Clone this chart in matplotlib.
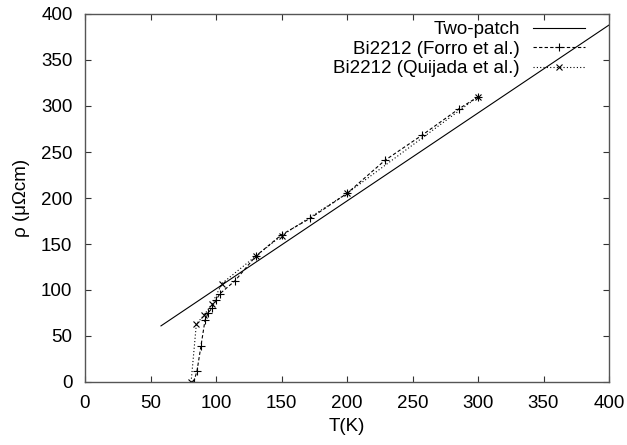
import matplotlib
matplotlib.use("Agg")
import matplotlib.pyplot as plt

plt.rcParams['font.family'] = ['Liberation Sans', 'DejaVu Sans']

# two-patch model line
tp_T = [58, 400]
tp_rho = [61, 388]

# Bi2212 (Forro et al.)
forro_T = [83, 85.5, 88.5, 91.6, 94, 96.8, 100, 103, 114.5, 130.5, 150, 172, 200, 229, 257, 285.5, 300]
forro_rho = [0, 12, 39, 67, 75, 80, 89, 96, 110, 137, 160, 178, 205, 241, 268, 297, 310]

# Bi2212 (Quijada et al.)
quij_T = [81, 85, 91, 97, 104.5, 130.5, 150, 200, 300]
quij_rho = [0, 63, 73, 85, 107, 137, 159, 205, 310]

xticks = [0, 50, 100, 150, 200, 250, 300, 350, 400]
yticks = [0, 50, 100, 150, 200, 250, 300, 350, 400]

fig = plt.figure(figsize=(6.27, 4.45), dpi=100)
ax = fig.add_axes([85 / 627, 1 - 382 / 445, 524 / 627, 368 / 445])

ax.plot(tp_T, tp_rho, color='black', lw=0.8, label='Two-patch')
ax.plot(forro_T, forro_rho, color='black', lw=0.8, dashes=(3, 2),
        marker='+', ms=6, mew=0.8, label='Bi2212 (Forro et al.)')
ax.plot(quij_T, quij_rho, color='black', lw=0.8, dashes=(1, 2),
        marker='x', ms=5, mew=0.8, label='Bi2212 (Quijada et al.)')

ax.set_xlim(0, 400)
ax.set_ylim(0, 400)
ax.set_xticks(xticks)
ax.set_yticks(yticks)
ax.tick_params(direction='in', length=4.5, width=0.8, top=True, right=True,
               labelsize=13.5, color='#333333')
ax.tick_params(axis='x', pad=9)
ax.tick_params(axis='y', pad=9)
for s in ax.spines.values():
    s.set_color('#555555')
    s.set_linewidth(1.0)

ax.set_xlabel('T(K)', fontsize=13.5, labelpad=5)
ax.set_ylabel('ρ (μΩcm)', fontsize=13.5, labelpad=8)

ax.legend(loc='upper right', bbox_to_anchor=(0.955, 0.98), frameon=False,
          markerfirst=False, fontsize=13.5, handlelength=2.8, handletextpad=0.7,
          labelspacing=0.12, borderpad=0, borderaxespad=0)

fig.savefig('out.png', dpi=100)
